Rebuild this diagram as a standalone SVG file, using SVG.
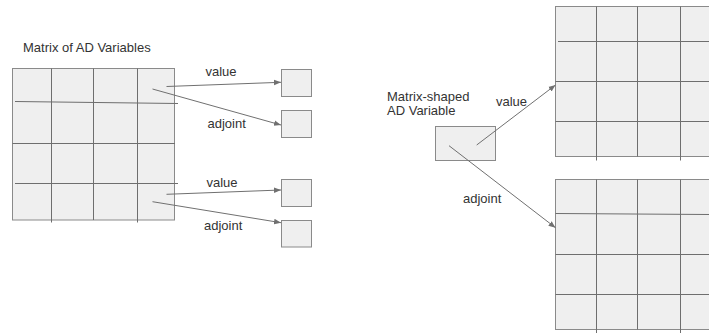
<svg xmlns="http://www.w3.org/2000/svg" width="709" height="333" viewBox="0 0 709 333">
<defs>
<style>
.box{fill:#efefef;stroke:#8a8a8a;stroke-width:1}
.grid{stroke:#6e6e6e;stroke-width:1;fill:none}
.conn{stroke:#707070;stroke-width:1;fill:none;marker-end:url(#ah)}
text{font-family:"Liberation Sans",Arial,sans-serif;font-size:13px;fill:#333}
</style>
<marker id="ah" viewBox="0 0 10 10" refX="10" refY="5" markerWidth="7" markerHeight="7" orient="auto" markerUnits="userSpaceOnUse">
<path d="M0,1 L10,5 L0,9 z" fill="#707070"/>
</marker>
</defs>
<rect width="709" height="333" fill="#ffffff"/>
<g id="title-left"><text x="23" y="52">Matrix of AD Variables</text></g>
<g id="matrix-left">
<rect class="box" x="12.5" y="68.5" width="162" height="151.5"/>
<path class="grid" d="M51.5,68.5V222.5 M93.5,68.5V220 M137.5,68.5V222.5 M15,101.5L178,103.5 M12.5,143.5H175 M15,183.5H178"/>
</g>
<g id="box-v1"><rect class="box" x="281.5" y="69.5" width="30" height="27"/></g>
<g id="box-a1"><rect class="box" x="281.5" y="110.5" width="30" height="27"/></g>
<g id="box-v2"><rect class="box" x="281.5" y="179.5" width="30" height="27"/></g>
<g id="box-a2"><rect class="box" x="281.5" y="220.5" width="30" height="26.5"/></g>
<g id="label-ms"><text x="387" y="101">Matrix-shaped</text><text x="387" y="115">AD Variable</text></g>
<g id="box-ms"><rect class="box" x="435.5" y="126.5" width="60" height="34"/></g>
<g id="matrix-value">
<rect class="box" x="555.5" y="6.5" width="160" height="150"/>
<path class="grid" d="M596.5,6.5V160.5 M637.5,6.5V156.5 M680.5,6.5V160.5 M558,41.5H709 M555.5,81.5H709 M555.5,121.5H709"/>
</g>
<g id="matrix-adjoint">
<rect class="box" x="555.5" y="179.5" width="160" height="150"/>
<path class="grid" d="M596.5,179.5V333 M637.5,179.5V329.5 M680.5,179.5V333 M555.5,213.5L709,214.5 M555.5,254.5H709 M555.5,294.5H709"/>
</g>
<g id="connectors">
<line class="conn" x1="166.5" y1="86.5" x2="281" y2="82.3"/>
<line class="conn" x1="152.5" y1="89" x2="281" y2="125"/>
<line class="conn" x1="166.5" y1="194.3" x2="281" y2="190"/>
<line class="conn" x1="152.5" y1="201.7" x2="281" y2="222.7"/>
<line class="conn" x1="476.7" y1="145" x2="555.5" y2="85"/>
<line class="conn" x1="449" y1="145.7" x2="555.5" y2="227.7"/>
</g>
<g id="labels">
<text x="205.5" y="76">value</text>
<text x="207.5" y="128">adjoint</text>
<text x="206.5" y="187">value</text>
<text x="204" y="230">adjoint</text>
<text x="496" y="106">value</text>
<text x="463" y="203">adjoint</text>
</g>
</svg>
